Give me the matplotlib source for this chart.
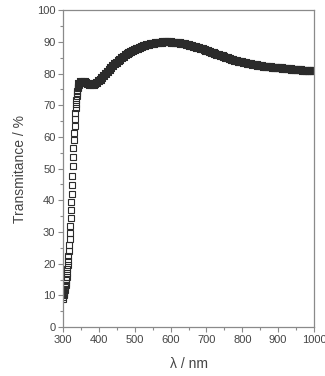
import numpy as np
import matplotlib
matplotlib.use("Agg")
import matplotlib.pyplot as plt
from matplotlib.ticker import MultipleLocator

# absorption edge, 1 nm steps (300-344 nm)
edge_nm = np.arange(300, 345, 1)
edge_T = [9.0, 9.5, 10.0, 10.6, 11.2, 11.8, 12.5, 13.2, 14.0, 14.9,
          15.9, 17.0, 18.2, 19.5, 20.9, 22.4, 24.0, 25.8, 27.7, 29.7,
          31.9, 34.3, 36.8, 39.4, 42.1, 44.9, 47.8, 50.7, 53.6, 56.4,
          59.0, 61.4, 63.6, 65.6, 67.4, 69.0, 70.4, 71.7, 72.8, 73.8,
          74.6, 75.3, 75.8, 76.2, 76.5]

# rest of the spectrum, 5 nm steps (345-1000 nm)
vis_nm = np.arange(345, 1001, 5)
vis_T = [76.8, 77.2, 77.3, 77.2, 77.0, 76.7, 76.4, 76.3, 76.4, 76.7,
         77.1, 77.6, 78.1, 78.7, 79.3, 79.9, 80.5, 81.1, 81.7, 82.3,
         82.9, 83.4, 83.9, 84.4, 84.9, 85.3, 85.7, 86.1, 86.5, 86.8,
         87.1, 87.4, 87.7, 87.9, 88.1, 88.4, 88.6, 88.8, 88.9, 89.0,
         89.2, 89.3, 89.4, 89.5, 89.6, 89.7, 89.7, 89.8, 89.8, 89.8,
         89.8, 89.8, 89.7, 89.7, 89.6, 89.6, 89.5, 89.4, 89.3, 89.2,
         89.1, 89.0, 88.8, 88.7, 88.5, 88.4, 88.2, 88.0, 87.8, 87.6,
         87.4, 87.2, 87.0, 86.8, 86.6, 86.4, 86.2, 86.0, 85.8, 85.6,
         85.4, 85.2, 85.0, 84.8, 84.6, 84.4, 84.3, 84.1, 83.9, 83.8,
         83.6, 83.5, 83.4, 83.2, 83.1, 83.0, 82.9, 82.8, 82.7, 82.6,
         82.5, 82.4, 82.3, 82.2, 82.2, 82.1, 82.0, 82.0, 81.9, 81.8,
         81.8, 81.7, 81.6, 81.6, 81.5, 81.4, 81.4, 81.3, 81.3, 81.2,
         81.2, 81.1, 81.1, 81.0, 81.0, 80.9, 80.9, 80.9, 80.8, 80.8,
         80.7, 80.7]

plt.rcParams['font.family'] = ['Liberation Sans', 'DejaVu Sans']
grey = '#8a8a8a'
txt = '#444444'
mk = '#2b2b2b'

fig = plt.figure(figsize=(3.25, 3.76), dpi=100)
ax = fig.add_axes([0.194, 0.130, 0.772, 0.843])

# same series, drawn in two parts: sparse edge squares stay open,
# the dense part merges into a solid band as in the original
ax.plot(edge_nm, edge_T, ls='none', marker='s', markersize=4.3,
        markerfacecolor='none', markeredgecolor=mk, markeredgewidth=0.8)
ax.plot(vis_nm[:len(vis_T)], vis_T, ls='none', marker='s', markersize=4.3,
        markerfacecolor='none', markeredgecolor=mk, markeredgewidth=1.5)

ax.set_xlim(300, 1000)
ax.set_ylim(0, 100)
ax.xaxis.set_major_locator(MultipleLocator(100))
ax.xaxis.set_minor_locator(MultipleLocator(50))
ax.yaxis.set_major_locator(MultipleLocator(10))
ax.yaxis.set_minor_locator(MultipleLocator(5))

for s in ax.spines.values():
    s.set_color(grey)
    s.set_linewidth(0.9)
ax.tick_params(which='both', direction='out', colors=grey, labelcolor=txt,
               top=False, right=False, labelsize=8, width=0.8)
ax.tick_params(which='major', length=3.5, pad=2)
ax.tick_params(which='minor', length=2)

ax.set_xlabel('λ / nm', fontsize=10, color=txt, labelpad=9)
ax.set_ylabel('Transmitance / %', fontsize=10, color=txt, labelpad=7)

fig.savefig('out.png', dpi=100)
